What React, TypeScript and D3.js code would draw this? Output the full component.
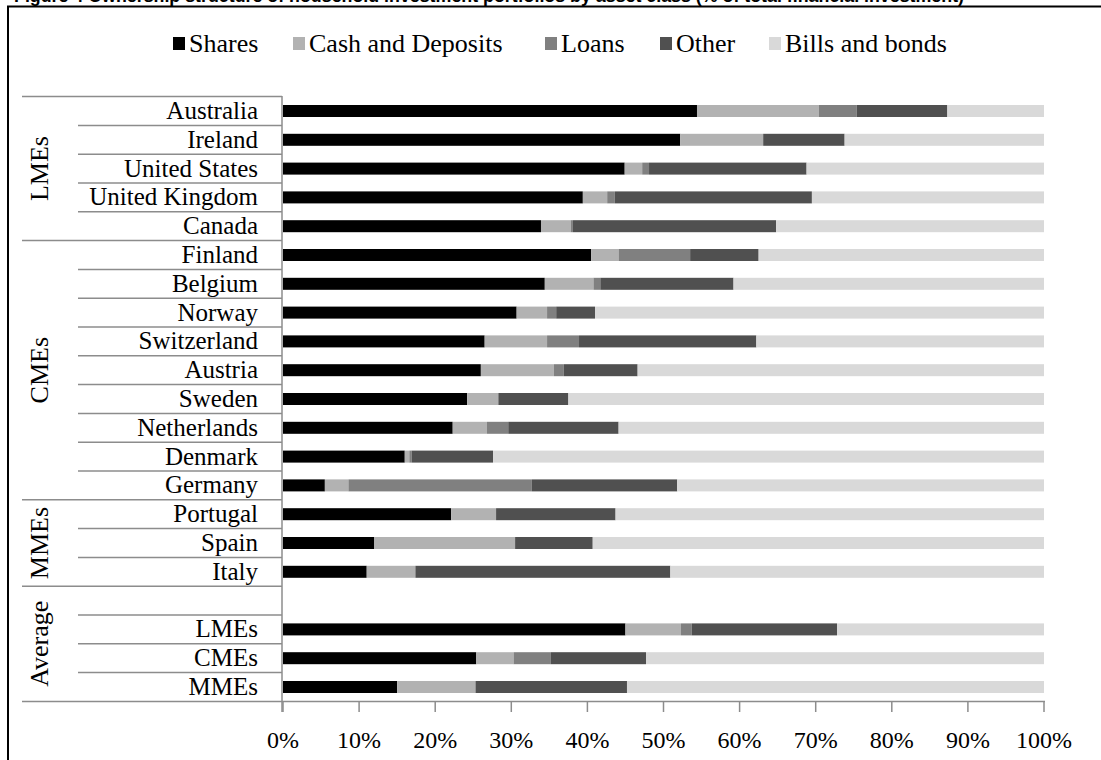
import React from 'react';
import * as d3 from 'd3';

const categories = ['Australia', 'Ireland', 'United States', 'United Kingdom', 'Canada', 'Finland', 'Belgium', 'Norway', 'Switzerland', 'Austria', 'Sweden', 'Netherlands', 'Denmark', 'Germany', 'Portugal', 'Spain', 'Italy', '', 'LMEs', 'CMEs', 'MMEs'];
const shares = [54.4, 52.2, 44.9, 39.4, 33.9, 40.5, 34.4, 30.7, 26.5, 26.0, 24.2, 22.3, 16.0, 5.5, 22.1, 12.0, 11.0, 0, 45.0, 25.4, 15.0];
const cash = [16.0, 10.9, 2.3, 3.2, 3.9, 3.6, 6.4, 4.0, 8.2, 9.6, 4.1, 4.5, 0.6, 3.1, 5.9, 18.5, 6.4, 0, 7.3, 4.9, 10.3];
const loans = [5.0, 0, 0.9, 1.0, 0.3, 9.4, 0.9, 1.2, 4.2, 1.3, 0, 2.8, 0.3, 24.1, 0, 0, 0, 0, 1.4, 4.9, 0];
const other = [11.9, 10.7, 20.7, 25.9, 26.7, 9.0, 17.5, 5.1, 23.3, 9.7, 9.2, 14.5, 10.7, 19.1, 15.7, 10.2, 33.5, 0, 19.1, 12.5, 19.9];
const bills = [12.7, 26.2, 31.2, 30.5, 35.2, 37.5, 40.8, 59.0, 37.8, 53.4, 62.5, 55.9, 72.4, 48.2, 56.3, 59.3, 49.1, 0, 27.2, 52.3, 54.8];
const seriesNames = ['Shares', 'Cash and Deposits', 'Loans', 'Other', 'Bills and bonds'];
const seriesColors = ['#000000', '#b2b2b2', '#808080', '#505050', '#d9d9d9'];
const groupLabels = ['LMEs', 'CMEs', 'MMEs', 'Average'];
const groupStarts = [0, 5, 14, 17];
const groupEnds = [5, 14, 17, 21];
const xTicks = [0, 10, 20, 30, 40, 50, 60, 70, 80, 90, 100];
const titleText = 'Figure 4 Ownership structure of household investment portfolios by asset class (% of total financial investment)';

const FONT = "'Liberation Serif', 'Times New Roman', serif";

export default function App() {
  const W = 1101, H = 760;
  const x = d3.scaleLinear().domain([0, 100]).range([283, 1044]);
  const rows = d3.scaleBand<number>().domain(d3.range(categories.length)).range([96.6, 701.4]).padding(0);
  const step = rows.step();
  const barH = 12;
  const seriesArrays = [shares, cash, loans, other, bills];
  const table = categories.map((c, i) => {
    const o: any = { idx: i };
    seriesNames.forEach((s, k) => { o[s] = seriesArrays[k][i]; });
    return o;
  });
  const stacked = d3.stack<any>().keys(seriesNames)(table);
  const axisX = 282;
  const gray = '#8c8c8c';

  // legend layout
  const legendSq = [173, 293, 545, 660, 769];

  return (
    <svg width={W} height={H} style={{ position: 'absolute', left: 0, top: 0, background: '#fff' }} xmlns="http://www.w3.org/2000/svg">
      <rect x={0} y={0} width={W} height={H} fill="#fff" />
      <text x={14} y={2} fontFamily="'Liberation Sans', Arial, sans-serif" fontWeight="bold" fontSize={18} textLength={950} lengthAdjust="spacingAndGlyphs">{titleText}</text>
      <rect x={8} y={6.5} width={1200} height={900} fill="none" stroke="#000" strokeWidth={2} />

      {/* legend */}
      {seriesNames.map((s, k) => (
        <g key={s}>
          <rect x={legendSq[k]} y={37} width={12} height={13} fill={seriesColors[k]} />
          <text x={legendSq[k] + 16} y={52} fontFamily={FONT} fontSize={26} fill="#000">{s}</text>
        </g>
      ))}

      {/* bars */}
      {stacked.map((layer, k) => (
        <g key={layer.key} fill={seriesColors[k]}>
          {layer.map((d, i) => (
            d[1] - d[0] > 0 ? (
              <rect key={i} x={x(d[0])} y={(rows(i) as number) + (step - barH) / 2} width={x(d[1]) - x(d[0])} height={barH} />
            ) : null
          ))}
        </g>
      ))}

      {/* row separators */}
      {d3.range(categories.length + 1).map(i => {
        const yy = 96.6 + i * step;
        const isGroup = groupStarts.includes(i) || i === categories.length;
        return <line key={i} x1={isGroup ? 22 : 78} x2={axisX} y1={yy} y2={yy} stroke={gray} strokeWidth={1.5} />;
      })}
      <line x1={axisX} x2={axisX} y1={96} y2={712} stroke={gray} strokeWidth={1.5} />
      <line x1={axisX} x2={1045} y1={701.4} y2={701.4} stroke={gray} strokeWidth={1.5} />
      {xTicks.map(t => (
        <g key={t}>
          <line x1={x(t)} x2={x(t)} y1={701.4} y2={712} stroke={gray} strokeWidth={1.5} />
          <text x={x(t)} y={748} textAnchor="middle" fontFamily={FONT} fontSize={24} fill="#000">{t + '%'}</text>
        </g>
      ))}

      {/* category labels */}
      {categories.map((c, i) => (
        <text key={i} x={258} y={(rows(i) as number) + step / 2 + 8} textAnchor="end" fontFamily={FONT} fontSize={25} fill="#000">{c}</text>
      ))}

      {/* group labels */}
      {groupLabels.map((g, k) => {
        const cy = 96.6 + (groupStarts[k] + groupEnds[k]) / 2 * step;
        return (
          <text key={g} transform={`translate(48,${cy}) rotate(-90)`} textAnchor="middle" fontFamily={FONT} fontSize={26} fill="#000">{g}</text>
        );
      })}
    </svg>
  );
}
